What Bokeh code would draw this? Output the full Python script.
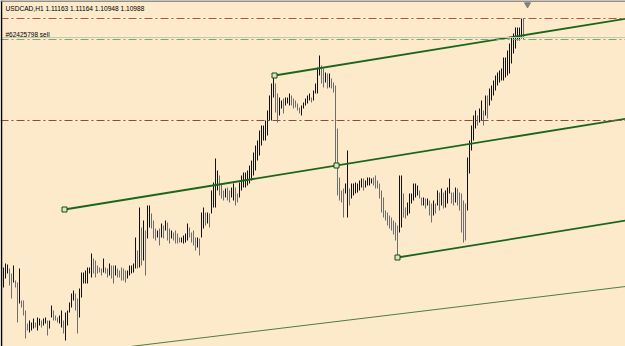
from bokeh.plotting import figure
from bokeh.models import Range1d, Span, Label, ColumnDataSource
from bokeh.embed import file_html
from bokeh.resources import INLINE

symbol = "USDCAD,H1"
last_ohlc = [1.11163, 1.11164, 1.10948, 1.10988]
order_label = "#62425798 sell"

highs = [
1.0867,1.0871,1.0870,1.0866,1.0861,1.0869,1.0854,1.0852,1.0866,1.0834,
1.0834,1.0824,1.0811,1.0814,1.0812,1.0816,1.0812,1.0817,1.0816,1.0814,
1.0816,1.0817,1.0814,1.0814,1.0829,1.0824,1.0819,1.0817,1.0819,1.0824,
1.0814,1.0822,1.0824,1.0832,1.0841,1.0844,1.0841,1.0836,1.0846,1.0862,
1.0862,1.0864,1.0867,1.0867,1.0881,1.0876,1.0874,1.0869,1.0867,1.0866,
1.0876,1.0867,1.0866,1.0871,1.0869,1.0869,1.0869,1.0866,1.0864,1.0867,
1.0866,1.0864,1.0864,1.0869,1.0869,1.0871,1.0897,1.0884,1.0927,1.0907,
1.0914,1.0904,1.0929,1.0929,1.0921,1.0914,1.0906,1.0904,1.0906,1.0911,
1.0909,1.0914,1.0912,1.0906,1.0904,1.0902,1.0904,1.0901,1.0897,1.0897,
1.0899,1.0901,1.0911,1.0907,1.0902,1.0904,1.0897,1.0897,1.0896,1.0922,
1.0927,1.0922,1.0922,1.0921,1.0944,1.0952,1.0976,1.0964,1.0959,1.0951,
1.0944,1.0946,1.0947,1.0944,1.0947,1.0951,1.0947,1.0941,1.0952,1.0959,
1.0962,1.0962,1.0964,1.0969,1.0974,1.0982,1.0989,1.0994,1.1004,1.1009,
1.1009,1.1014,1.1024,1.1039,1.1051,1.1059,1.1051,1.1041,1.1037,1.1034,
1.1036,1.1037,1.1037,1.1041,1.1039,1.1036,1.1034,1.1031,1.1027,1.1029,
1.1032,1.1036,1.1039,1.1041,1.1037,1.1044,1.1051,1.1067,1.1079,1.1069,
1.1066,1.1062,1.1061,1.1061,1.1056,1.1052,1.1049,1.1006,1.0957,1.0944,
1.0946,1.0951,1.0984,1.0946,1.0951,1.0951,1.0952,1.0951,1.0954,1.0956,
1.0956,1.0954,1.0957,1.0957,1.0956,1.0957,1.0959,1.0954,1.0951,1.0944,
1.0937,1.0924,1.0922,1.0919,1.0917,1.0914,1.0912,1.0909,1.0959,1.0959,
1.0941,1.0927,1.0932,1.0941,1.0941,1.0951,1.0951,1.0949,1.0944,1.0937,
1.0937,1.0936,1.0936,1.0934,1.0931,1.0934,1.0931,1.0944,1.0942,1.0946,
1.0942,1.0944,1.0947,1.0956,1.0942,1.0942,1.0947,1.0946,1.0942,1.0941,
1.0934,1.0931,1.0977,1.0994,1.1009,1.1019,1.1024,1.1019,1.1026,1.1034,
1.1024,1.1039,1.1039,1.1046,1.1049,1.1054,1.1059,1.1062,1.1064,1.1066,
1.1077,1.1077,1.1084,1.1091,1.1097,1.1101,1.1107,1.1107,1.1107,1.1116,
1.11164]

lows = [
1.0847,1.0856,1.0861,1.0849,1.0836,1.0852,1.0847,1.0812,1.0831,1.0827,
1.0819,1.0796,1.0804,1.0802,1.0804,1.0806,1.0807,1.0804,1.0809,1.0807,
1.0809,1.0811,1.0799,1.0806,1.0817,1.0814,1.0814,1.0812,1.0811,1.0807,
1.0801,1.0794,1.0809,1.0822,1.0827,1.0834,1.0824,1.0801,1.0817,1.0837,
1.0851,1.0851,1.0851,1.0861,1.0857,1.0861,1.0857,1.0861,1.0862,1.0859,
1.0862,1.0861,1.0857,1.0859,1.0856,1.0851,1.0859,1.0857,1.0857,1.0854,
1.0854,1.0852,1.0856,1.0859,1.0861,1.0862,1.0866,1.0866,1.0867,1.0869,
1.0874,1.0859,1.0896,1.0907,1.0906,1.0896,1.0894,1.0897,1.0889,1.0897,
1.0896,1.0904,1.0894,1.0891,1.0896,1.0894,1.0891,1.0891,1.0892,1.0892,
1.0891,1.0892,1.0894,1.0897,1.0892,1.0889,1.0884,1.0887,1.0879,1.0897,
1.0906,1.0909,1.0911,1.0907,1.0921,1.0927,1.0927,1.0944,1.0939,1.0936,
1.0934,1.0937,1.0934,1.0932,1.0937,1.0934,1.0929,1.0932,1.0937,1.0944,
1.0947,1.0947,1.0949,1.0951,1.0954,1.0959,1.0964,1.0974,1.0979,1.0989,
1.0994,1.0994,1.0999,1.1014,1.1014,1.1037,1.1022,1.1012,1.1019,1.1026,
1.1021,1.1029,1.1031,1.1029,1.1029,1.1026,1.1027,1.1024,1.1021,1.1019,
1.1026,1.1029,1.1031,1.1034,1.1032,1.1034,1.1041,1.1041,1.1059,1.1051,
1.1047,1.1052,1.1046,1.1047,1.1046,1.1042,1.0969,1.0939,1.0934,1.0932,
1.0917,1.0941,1.0917,1.0929,1.0936,1.0939,1.0941,1.0942,1.0944,1.0947,
1.0944,1.0947,1.0949,1.0949,1.0951,1.0949,1.0946,1.0946,1.0936,1.0922,
1.0917,1.0914,1.0909,1.0906,1.0904,1.0900,1.0894,1.0877,1.0902,1.0907,
1.0917,1.0916,1.0919,1.0921,1.0931,1.0934,1.0937,1.0939,1.0936,1.0929,
1.0929,1.0926,1.0929,1.0919,1.0912,1.0919,1.0921,1.0929,1.0924,1.0929,
1.0926,1.0927,1.0931,1.0941,1.0931,1.0929,1.0932,1.0929,1.0924,1.0902,
1.0892,1.0894,1.0924,1.0961,1.0984,1.0994,1.1006,1.1009,1.1012,1.1014,
1.1009,1.1019,1.1016,1.1029,1.1034,1.1039,1.1044,1.1049,1.1052,1.1054,
1.1054,1.1057,1.1059,1.1061,1.1071,1.1081,1.1086,1.1094,1.1094,1.1096,
1.10948]

# Trend lines: (bar index, price) anchors
channel_mid = [(30.5, 1.0925), (166.5, 1.0969)]
channel_top_anchor = (135.5, 1.1059)
channel_low_anchor = (197.0, 1.0877)
long_line = [(63.5, 1.0788), (311.0, 1.0848)]

# Horizontal levels
level_red_top = 1.1116
level_sell = 1.1095
level_bid = 1.1097
level_red_mid = 1.1014

BG = "#FCEACB"
GREEN = "#1C661C"
RED = "#A85A48"

n = len(highs)
idx = list(range(n))
mids = [(h + l) / 2 for h, l in zip(highs, lows)]
colors = ["#111111" if i == 0 or mids[i] >= mids[i - 1] else "#6E6E6E" for i in idx]

p = figure(width=625, height=346, output_backend="svg", toolbar_location=None,
           x_range=Range1d(-1.5, 311.0), y_range=Range1d(1.0788, 1.1134),
           min_border=0, background_fill_color=BG, border_fill_color=BG)
p.axis.visible = False
p.grid.visible = False
p.outline_line_color = None

# level lines
p.add_layout(Span(location=level_red_top, dimension="width", line_color=RED,
                  line_dash="8 3 2 3", line_width=1))
p.add_layout(Span(location=level_bid, dimension="width", line_color="#C9C7B4",
                  line_width=1))
p.add_layout(Span(location=level_sell, dimension="width", line_color="#76A872",
                  line_dash="8 3 2 3", line_width=1))
p.add_layout(Span(location=level_red_mid, dimension="width", line_color="#8E4A3A",
                  line_dash="8 3 2 3", line_width=1))

# bars
src = ColumnDataSource(dict(x=idx, h=highs, l=lows, c=colors))
p.segment(x0="x", y0="l", x1="x", y1="h", color="c", line_width=1, source=src)

# channel lines
(xa, ya), (xb, yb) = channel_mid
slope = (yb - ya) / (xb - xa)
xr = 311.0
p.line([xa, xr], [ya, ya + slope * (xr - xa)], line_color=GREEN, line_width=1.8)
tx, ty = channel_top_anchor
p.line([tx, xr], [ty, ty + slope * (xr - tx)], line_color=GREEN, line_width=1.8)
lx, ly = channel_low_anchor
p.line([lx, xr], [ly, ly + slope * (xr - lx)], line_color=GREEN, line_width=1.8)
p.line([long_line[0][0], long_line[1][0]], [long_line[0][1], long_line[1][1]],
       line_color="#4E7E3E", line_width=1)

p.scatter([xa, xb, tx, lx], [ya, yb, ty, ly], marker="square", size=5,
          fill_color="#D8E8C0", line_color="#184818", line_width=1)

# frame
p.add_layout(Span(location=-1.0, dimension="height", line_color="#000000", line_width=1.5))
p.add_layout(Span(location=1.11335, dimension="width", line_color="#707070", line_width=1.5))

# marker of last bar
p.scatter([262], [1.1130], marker="inverted_triangle", size=6, fill_color="#808080",
          line_color="#808080")

header = symbol + "  " + " ".join("%.5f" % v for v in last_ohlc)
p.add_layout(Label(x=5, y=338, x_units="screen", y_units="screen", text=header,
                   text_font="Liberation Sans", text_font_size="6.6px",
                   text_baseline="middle", text_color="#000000"))
p.add_layout(Label(x=5, y=312, x_units="screen", y_units="screen", text=order_label,
                   text_font="Liberation Sans", text_font_size="6.5px",
                   text_baseline="middle", text_color="#000000"))

open("out.html", "w").write(file_html(p, INLINE))
